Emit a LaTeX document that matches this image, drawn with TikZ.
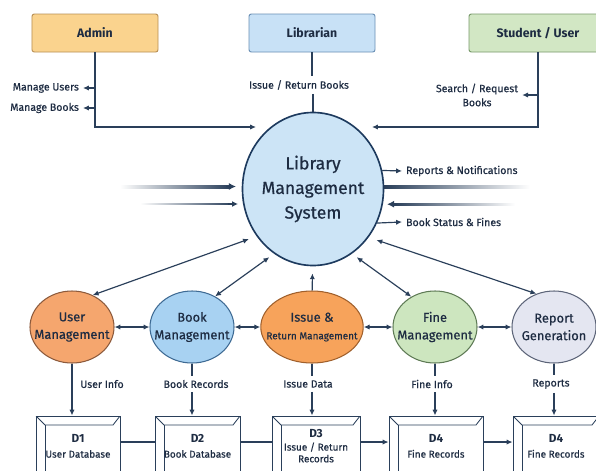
\documentclass[tikz,border=0pt]{standalone}
\usepackage{fontspec}
\setmainfont{Fira Sans}[UprightFeatures = {FakeBold = 0.5}]
\usetikzlibrary{shapes.geometric, arrows.meta}

\definecolor{navy}{HTML}{2A3F5A}
\definecolor{ink}{HTML}{1E2C42}
\definecolor{adminfill}{HTML}{FAD38E}
\definecolor{adminline}{HTML}{B88F55}
\definecolor{libfill}{HTML}{C8E1F6}
\definecolor{libline}{HTML}{6A8FB5}
\definecolor{stufill}{HTML}{D2E7C4}
\definecolor{stuline}{HTML}{789A6A}
\definecolor{lmsfill}{HTML}{CCE4F6}
\definecolor{lmsline}{HTML}{1D3A5E}
\definecolor{userfill}{HTML}{F5A66E}
\definecolor{userline}{HTML}{8C5A3C}
\definecolor{bookfill}{HTML}{A8D2F2}
\definecolor{bookline}{HTML}{3E6A93}
\definecolor{issuefill}{HTML}{F7A35B}
\definecolor{issueline}{HTML}{A0602C}
\definecolor{finefill}{HTML}{CDE6BF}
\definecolor{fineline}{HTML}{5E7A55}
\definecolor{repfill}{HTML}{E4E6F1}
\definecolor{repline}{HTML}{5C6478}

\begin{document}
\begin{tikzpicture}
    [
        x = 0.03cm, y = -0.03cm,
        every node/.style = {text = ink},
        entity/.style = {draw, rounded corners = 2pt, line width = 0.8pt, minimum width = 3.78cm, minimum height = 1.14cm, font = \fontsize{10.5}{12}\selectfont\bfseries},
        proc/.style = {draw, ellipse, line width = 0.9pt, inner xsep = -8pt, inner ysep = 0pt, minimum width = 2.52cm, minimum height = 2.16cm, align = center, font = \fontsize{11}{15}\selectfont},
        store/.style = {draw = navy, line width = 0.8pt, fill = white, minimum height = 1.8cm, align = center, font = \fontsize{8.5}{10}\selectfont,
            path picture = {
                \draw[navy, line width = 0.7pt] (path picture bounding box.north west) -- ++(9,9) -- ([shift = {(-7,9)}]path picture bounding box.north east) -- (path picture bounding box.north east);
                \draw[navy, line width = 0.7pt] ([shift = {(9,9)}]path picture bounding box.north west) -- ([shift = {(9,0)}]path picture bounding box.south west);
            }},
        flow/.style = {font = \fontsize{9}{12}\selectfont, align = center},
        link/.style = {draw = navy, line width = 1pt},
        arr/.style = {link, -{Latex[length = 5pt, width = 4.5pt]}},
        dblarr/.style = {link, {Latex[length = 5pt, width = 4.5pt]}-{Latex[length = 5pt, width = 4.5pt]}}
    ]

        \path[use as bounding box, fill = white] (0,0) rectangle (596,470);
        \clip (0,0) rectangle (596,470);

        % external entities
        \node[entity, fill = adminfill, draw = adminline] (admin) at (95,33) {Admin};
        \node[entity, fill = libfill, draw = libline] (librarian) at (312,33) {Librarian};
        \node[entity, fill = stufill, draw = stuline, minimum width = 4.14cm] (student) at (538,33) {Student / User};

        % central process
        \node[draw = lmsline, fill = lmsfill, ellipse, line width = 1.4pt, inner xsep = -6pt, minimum width = 4.23cm, minimum height = 4.59cm, align = center, font = \fontsize{15}{21}\selectfont] (lms) at (313,189) {Library\\Management\\System};

        \node[flow, anchor = east] (manusers) at (83,88) {Manage Users};
        \node[flow, anchor = east] (manbooks) at (83,108) {Manage Books};
        \node[flow] (issret) at (299,85) {Issue / Return Books};
        \node[flow] (search) at (477,95) {Search / Request\\Books};
        \node[flow, anchor = west] (repnot) at (402,171) {Reports \& Notifications};
        \node[flow, anchor = west] (bookstat) at (402,222) {Book Status \& Fines};

        \coordinate (adminin) at (256,127);
        \coordinate (studin) at (372,127);

        \draw[arr] (admin.south) |- (adminin);
        \draw[arr] (admin.south |- manusers.east) -- (manusers.east);
        \draw[arr] (admin.south |- manbooks.east) -- (manbooks.east);
        \draw[link] (librarian) -- (librarian.south |- issret.north);
        \draw[link] (lms.north |- issret.south) -- (lms);
        \draw[arr] (student.south) |- (studin);
        \draw[arr] (student.south |- search.east) -- (search.east);
        \draw[arr] (lms.15) -- (repnot.west);
        \draw[arr] (lms.-28) -- (bookstat.west);

        % faded flows
        \coordinate (leftin1) at (236,186.5);
        \coordinate (leftin2) at (238,204);
        \coordinate (rightin) at (387,204.2);
        \shade[left color = white, right color = navy] (120,185) rectangle (230,188);
        \draw[navy, line width = 1.5pt, -{Latex[length = 6pt, width = 6pt]}] (226,186.5) -- (leftin1);
        \shade[left color = white, right color = navy] (140,203.2) rectangle (232,204.8);
        \draw[navy, line width = 1pt, -{Latex[length = 5pt, width = 5pt]}] (228,204) -- (leftin2);
        \shade[left color = navy, right color = white] (384,185.8) rectangle (530,188.4);
        \shade[left color = navy, right color = white] (394,203) rectangle (515,205.4);
        \draw[navy, line width = 1.2pt, -{Latex[length = 6pt, width = 6pt]}] (397,204.2) -- (rightin);

        % sub processes
        \node[proc, fill = userfill, draw = userline] (userm) at (72,327) {User\\Management};
        \node[proc, fill = bookfill, draw = bookline] (bookm) at (192,327) {Book\\Management};
        \node[proc, fill = issuefill, draw = issueline, minimum width = 2.79cm] (issuem) at (312,327) {Issue \&\\{\fontsize{8.5}{10}\selectfont Return Management}};
        \node[proc, fill = finefill, draw = fineline] (finem) at (435,327) {Fine\\Management};
        \node[proc, fill = repfill, draw = repline] (repm) at (554,327) {Report\\Generation};

        \draw[dblarr] (userm) -- (bookm);
        \draw[dblarr] (bookm) -- (issuem);
        \draw[dblarr] (issuem) -- (finem);
        \draw[dblarr] (finem) -- (repm);

        \draw[dblarr, shorten > = 7pt] (userm.57) -- (lms.220);
        \draw[dblarr, shorten > = 5pt] (bookm.53) -- (lms.239);
        \draw[arr, shorten > = 6pt] (issuem) -- (lms);
        \draw[dblarr, shorten < = 5pt] (lms.301) -- (finem.128);
        \draw[dblarr, shorten < = 7pt] (lms.319) -- (repm.118);

        % data stores
        \node[store, minimum width = 2.52cm] (d1) at (78,446) {{\fontsize{10}{12}\selectfont\bfseries D1}\\[3pt]User Database};
        \node[store, minimum width = 2.55cm] (d2) at (197.5,446) {{\fontsize{10}{12}\selectfont\bfseries D2}\\[3pt]Book Database};
        \node[store, minimum width = 2.64cm] (d3) at (316,446) {{\fontsize{10}{12}\selectfont\bfseries D3}\\[1pt]Issue / Return\\Records};
        \node[store, minimum width = 2.82cm] (d4) at (436,446) {{\fontsize{10}{12}\selectfont\bfseries D4}\\[3pt]Fine Records};
        \node[store, minimum width = 2.58cm] (d5) at (556,446) {{\fontsize{10}{12}\selectfont\bfseries D4}\\[3pt]Fine Records};

        \node[flow] (userinfo) at (102,384) {User Info};
        \node[flow] (bookrec) at (196,384) {Book Records};
        \node[flow] (issdata) at (308,384) {Issue Data};
        \node[flow] (fineinfo) at (432,384) {Fine Info};
        \node[flow] (reports) at (551,384) {Reports};

        \draw[arr] (userm) -- (userm.south |- d1.north);
        \draw[link] (bookm) -- (bookm.south |- bookrec.north);
        \draw[arr] (bookm.south |- bookrec.south) -- (bookm.south |- d2.north);
        \draw[link] (issuem) -- (issuem.south |- issdata.north);
        \draw[arr] (issuem.south |- issdata.south) -- (issuem.south |- d3.north);
        \draw[link] (finem) -- (finem.south |- fineinfo.north);
        \draw[arr] (finem.south |- fineinfo.south) -- (finem.south |- d4.north);
        \draw[link] (repm) -- (repm.south |- reports.north);
        \draw[arr] (repm.south |- reports.south) -- (repm.south |- d5.north);

        \draw[link] ([yshift = 3.4pt]d1.east) -- ([yshift = 3.4pt]d2.west);
        \draw[link] ([yshift = 3.4pt]d2.east) -- ([yshift = 3.4pt]d3.west);
        \draw[arr] ([yshift = 3.4pt]d3.east) -- ([yshift = 3.4pt]d4.west);
        \draw[arr] ([yshift = 3.4pt]d4.east) -- ([yshift = 3.4pt]d5.west);
\end{tikzpicture}
\end{document}
